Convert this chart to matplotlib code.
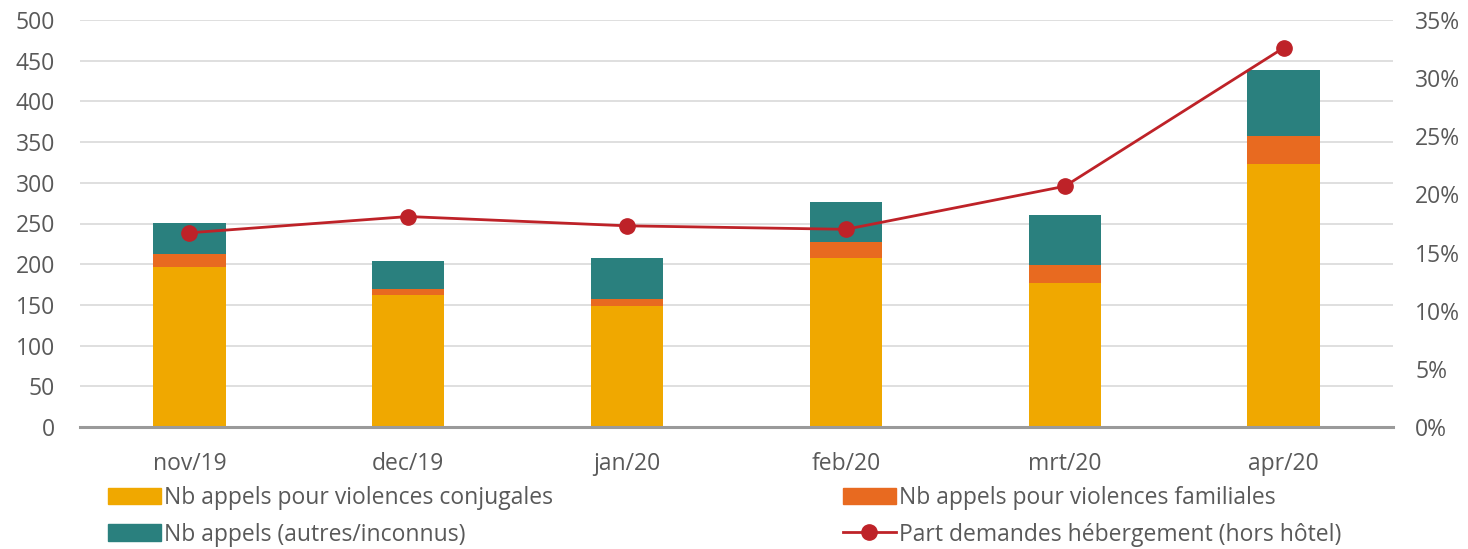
import matplotlib
matplotlib.use("Agg")
import matplotlib.pyplot as plt
from matplotlib.ticker import FuncFormatter, MultipleLocator
from matplotlib.lines import Line2D
from matplotlib.patches import Patch

months = ["nov/19", "dec/19", "jan/20", "feb/20", "mrt/20", "apr/20"]
conjugales = [196, 162, 149, 208, 177, 323]
familiales = [17, 8, 8, 19, 22, 34]
autres = [38, 34, 51, 49, 61, 81]
part_hebergement = [0.167, 0.181, 0.173, 0.170, 0.207, 0.326]

c_conj = "#F0A800"
c_fam = "#E86A20"
c_aut = "#2A807E"
c_line = "#BE2228"
txt = "#595959"

plt.rcParams["font.family"] = ["Open Sans", "DejaVu Sans"]

fig = plt.figure(figsize=(14.68, 5.49), dpi=100)
ax = fig.add_axes([80/1468, (549-427)/549, (1393-80)/1468, (427-20)/549])
ax2 = ax.twinx()

x = list(range(len(months)))
w = 0.33
b1 = [c + f for c, f in zip(conjugales, familiales)]
ax.bar(x, conjugales, w, color=c_conj, zorder=2)
ax.bar(x, familiales, w, bottom=conjugales, color=c_fam, zorder=2)
ax.bar(x, autres, w, bottom=b1, color=c_aut, zorder=2)

ax2.plot(x, part_hebergement, color=c_line, lw=2, marker="o", ms=11, zorder=3)

ax.set_xlim(-0.5, len(months) - 0.5)
ax.set_ylim(0, 500)
ax.yaxis.set_major_locator(MultipleLocator(50))
ax2.set_ylim(0, 0.35)
ax2.yaxis.set_major_locator(MultipleLocator(0.05))
ax2.yaxis.set_major_formatter(FuncFormatter(lambda v, p: f"{v*100:.0f}%"))

ax.grid(axis="y", color="#D9D9D9", lw=1.2, zorder=0)
ax.set_axisbelow(True)
for a in (ax, ax2):
    for s in ["top", "left", "right", "bottom"]:
        a.spines[s].set_visible(False)
ax.axhline(0, color="#9A9A9A", lw=2.2, zorder=4, clip_on=False)

ts = 16.5
ax.set_xticks(x)
ax.set_xticklabels(months)
ax.tick_params(axis="x", length=0, pad=18, labelsize=ts, labelcolor=txt)
ax.tick_params(axis="y", length=0, pad=18, labelsize=ts, labelcolor=txt)
ax2.tick_params(axis="y", length=0, pad=16, labelsize=ts, labelcolor=txt)

fs = 16.5
h_conj = Patch(color=c_conj, label="Nb appels pour violences conjugales")
h_fam = Patch(color=c_fam, label="Nb appels pour violences familiales")
h_aut = Patch(color=c_aut, label="Nb appels (autres/inconnus)")
h_line = Line2D([], [], color=c_line, lw=2, marker="o", ms=11,
                label="Part demandes hébergement (hors hôtel)")

common = dict(frameon=False, fontsize=fs, labelcolor=txt, handlelength=2.3,
              handleheight=0.75, handletextpad=0.15, labelspacing=0.55,
              borderaxespad=0, borderpad=0)
leg1 = fig.legend(handles=[h_conj, h_aut], loc="upper left",
                  bbox_to_anchor=(108/1468, 1 - 486/549), **common)
leg2 = fig.legend(handles=[h_fam, h_line], loc="upper left",
                  bbox_to_anchor=(843/1468, 1 - 486/549), **common)

fig.savefig("out.png", dpi=100)
